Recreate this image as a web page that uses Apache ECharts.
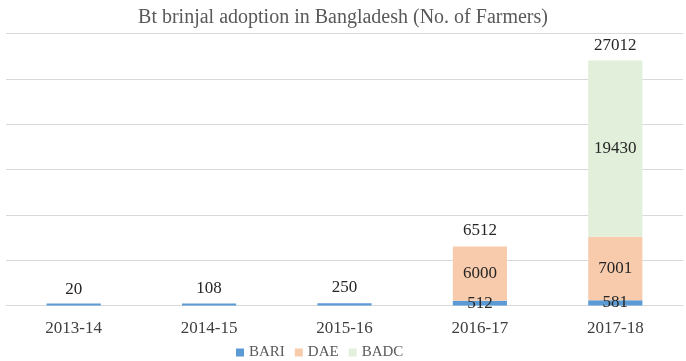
<!DOCTYPE html>
<html><head><meta charset="utf-8">
<script src="https://cdn.jsdelivr.net/npm/echarts@6/dist/echarts.min.js"></script>
<style>html,body{margin:0;padding:0;background:#fff}#c{width:686px;height:361px}</style>
</head><body><div id="c"></div>
<script>
const categories = ['2013-14','2014-15','2015-16','2016-17','2017-18'];
const bari = [20, 108, 250, 512, 581];
const dae = [0, 0, 0, 6000, 7001];
const badc = [0, 0, 0, 0, 19430];
const totals = [20, 108, 250, 6512, 27012];
const titleText = 'Bt brinjal adoption in Bangladesh (No. of Farmers)';

const FONT = 'Liberation Serif';
const chart = echarts.init(document.getElementById('c'), null, {renderer:'canvas'});
const labelStyle = {fontFamily: FONT, fontSize: 17, color: '#262626'};
chart.setOption({
  animation: false,
  title: {text: titleText, left: 'center', top: 3, textStyle: {fontFamily: FONT, fontSize: 20, fontWeight: 'normal', color: '#595959'}},
  legend: {bottom: 0, left: 236, padding: [0, 0, 1, 0], itemWidth: 8, itemHeight: 8, itemGap: 10, icon: 'rect',
    textStyle: {fontFamily: FONT, fontSize: 15, color: '#595959'}, data: ['BARI','DAE','BADC']},
  grid: {left: 6, right: 3, top: 33.5, bottom: 55.5, containLabel: false},
  xAxis: {type: 'category', data: categories, axisTick: {show: false},
    axisLine: {lineStyle: {color: '#d9d9d9'}},
    axisLabel: {fontFamily: FONT, fontSize: 17, color: '#404040', margin: 15}},
  yAxis: {type: 'value', min: 0, max: 30000, interval: 5000, axisLabel: {show: false},
    axisLine: {show: false}, axisTick: {show: false}, splitLine: {lineStyle: {color: '#d9d9d9'}}},
  series: [
    {name: 'BARI', type: 'bar', stack: 's', data: bari, barWidth: '40%', barMinHeight: 2, itemStyle: {color: '#5b9bd5'},
      label: {show: true, position: 'inside', ...labelStyle, formatter: p => p.value > 400 ? p.value : ''}},
    {name: 'DAE', type: 'bar', stack: 's', data: dae, itemStyle: {color: '#f8cbad'},
      label: {show: true, position: 'inside', ...labelStyle, formatter: p => p.value > 0 ? p.value : ''}},
    {name: 'BADC', type: 'bar', stack: 's', data: badc, itemStyle: {color: '#e2efda'},
      label: {show: true, position: 'inside', ...labelStyle, formatter: p => p.value > 0 ? p.value : ''}},
    {name: 'Total', type: 'bar', stack: 's', data: totals.map(() => 0), itemStyle: {color: 'transparent'},
      label: {show: true, position: 'top', distance: 7, ...labelStyle, formatter: p => totals[p.dataIndex]}}
  ]
});
</script></body></html>
